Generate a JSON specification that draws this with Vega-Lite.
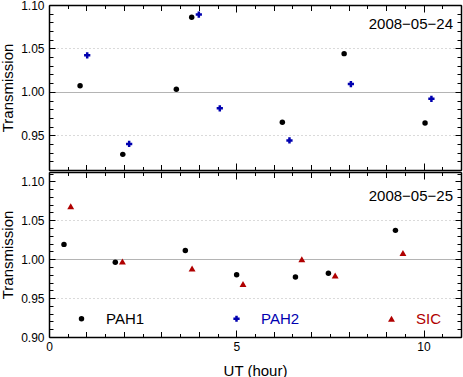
{
  "$schema": "https://vega.github.io/schema/vega-lite/v6.json",
  "padding": {"left": 0, "top": -1, "right": 1, "bottom": 0},
  "spacing": 0,
  "config": {
    "view": {"stroke": null},
    "font": "Liberation Sans",
    "axis": {
      "grid": false, "ticks": true,
      "domainColor": "black", "domainWidth": 1.5, "tickColor": "black", "tickWidth": 1, "tickOpacity": 1,
      "labelFont": "Liberation Sans", "labelFontSize": 12, "labelColor": "black",
      "titleFont": "Liberation Sans", "titleFontSize": 15, "titleFontWeight": "normal", "titleColor": "black",
      "labelOverlap": false, "labelFlush": false, "labelBound": false
    },
    "legend": {"labelFont": "Liberation Sans", "labelFontSize": 15, "padding": 0}
  },
  "data": {"values": [
    {"date": "2008-05-24", "filter": "PAH1", "ut": 0.83, "trans": 1.007},
    {"date": "2008-05-24", "filter": "PAH2", "ut": 1.02, "trans": 1.042},
    {"date": "2008-05-24", "filter": "PAH1", "ut": 1.97, "trans": 0.928},
    {"date": "2008-05-24", "filter": "PAH2", "ut": 2.14, "trans": 0.940},
    {"date": "2008-05-24", "filter": "PAH1", "ut": 3.40, "trans": 1.003},
    {"date": "2008-05-24", "filter": "PAH1", "ut": 3.81, "trans": 1.086},
    {"date": "2008-05-24", "filter": "PAH2", "ut": 4.00, "trans": 1.089},
    {"date": "2008-05-24", "filter": "PAH2", "ut": 4.56, "trans": 0.981},
    {"date": "2008-05-24", "filter": "PAH1", "ut": 6.23, "trans": 0.965},
    {"date": "2008-05-24", "filter": "PAH2", "ut": 6.42, "trans": 0.944},
    {"date": "2008-05-24", "filter": "PAH1", "ut": 7.88, "trans": 1.044},
    {"date": "2008-05-24", "filter": "PAH2", "ut": 8.06, "trans": 1.009},
    {"date": "2008-05-24", "filter": "PAH1", "ut": 10.04, "trans": 0.964},
    {"date": "2008-05-24", "filter": "PAH2", "ut": 10.21, "trans": 0.992},
    {"date": "2008-05-25", "filter": "PAH1", "ut": 0.40, "trans": 1.019},
    {"date": "2008-05-25", "filter": "SIC", "ut": 0.58, "trans": 1.068},
    {"date": "2008-05-25", "filter": "PAH1", "ut": 1.77, "trans": 0.996},
    {"date": "2008-05-25", "filter": "SIC", "ut": 1.96, "trans": 0.997},
    {"date": "2008-05-25", "filter": "PAH1", "ut": 3.64, "trans": 1.011},
    {"date": "2008-05-25", "filter": "SIC", "ut": 3.82, "trans": 0.988},
    {"date": "2008-05-25", "filter": "PAH1", "ut": 5.01, "trans": 0.980},
    {"date": "2008-05-25", "filter": "SIC", "ut": 5.18, "trans": 0.968},
    {"date": "2008-05-25", "filter": "PAH1", "ut": 6.58, "trans": 0.977},
    {"date": "2008-05-25", "filter": "SIC", "ut": 6.75, "trans": 1.000},
    {"date": "2008-05-25", "filter": "PAH1", "ut": 7.46, "trans": 0.982},
    {"date": "2008-05-25", "filter": "SIC", "ut": 7.64, "trans": 0.979},
    {"date": "2008-05-25", "filter": "PAH1", "ut": 9.25, "trans": 1.037},
    {"date": "2008-05-25", "filter": "SIC", "ut": 9.45, "trans": 1.008}
  ]},
  "vconcat": [
    {
      "width": 412, "height": 165,
      "transform": [{"filter": "datum.date == '2008-05-24'"}],
      "layer": [
        {
          "mark": {"type": "point", "filled": true, "opacity": 1},
          "encoding": {
            "x": {"field": "ut", "type": "quantitative", "scale": {"domain": [0, 11], "nice": false, "zero": false},
              "axis": {"orient": "bottom", "title": null, "labels": false, "values": [0, 5, 10], "tickSize": -7}},
            "y": {"field": "trans", "type": "quantitative", "scale": {"domain": [0.91, 1.10], "nice": false, "zero": false},
              "axis": {"orient": "left", "title": "Transmission", "grid": true, "values": [0.95, 1.00, 1.05, 1.10], "format": ".2f",
                "tickSize": -6, "labelPadding": 11, "minExtent": 29, "maxExtent": 29, "titlePadding": 5,
                "gridColor": "#b4b4b4", "gridWidth": 1,
                "gridDash": {"condition": {"test": "abs(datum.value - 1) < 0.001", "value": []}, "value": [1, 3]},
                "gridOpacity": {"condition": {"test": "abs(datum.value - 1.10) < 0.001", "value": 0}, "value": 1}}},
            "color": {"field": "filter", "type": "nominal", "scale": {"domain": ["PAH1", "PAH2", "SIC"], "range": ["#000000", "#0000b0", "#b00000"]}, "title": null},
            "shape": {"field": "filter", "type": "nominal", "scale": {"domain": ["PAH1", "PAH2", "SIC"], "range": ["circle", "cross", "triangle-up"]}, "title": null},
            "size": {"field": "filter", "type": "nominal", "scale": {"domain": ["PAH1", "PAH2", "SIC"], "range": [30, 48, 42]}, "legend": null}
          }
        },
        {
          "mark": {"type": "point", "opacity": 0},
          "encoding": {
            "x": {"field": "ut", "type": "quantitative", "axis": {"orient": "top", "title": null, "labels": false, "values": [0, 5, 10], "tickSize": -7}},
            "y": {"field": "trans", "type": "quantitative", "axis": {"orient": "right", "title": null, "labels": false, "values": [0.95, 1.00, 1.05, 1.10], "tickSize": -6}}
          }
        },
        {
          "mark": {"type": "point", "opacity": 0},
          "encoding": {
            "x": {"field": "ut", "type": "quantitative", "axis": {"orient": "bottom", "title": null, "labels": false, "domain": false, "values": [1,2,3,4,6,7,8,9,11], "tickSize": -5.5}},
            "y": {"field": "trans", "type": "quantitative", "axis": {"orient": "left", "title": null, "labels": false, "domain": false, "values": [0.91,0.92,0.93,0.94,0.96,0.97,0.98,0.99,1.01,1.02,1.03,1.04,1.06,1.07,1.08,1.09], "tickSize": -4}}
          }
        },
        {
          "mark": {"type": "point", "opacity": 0},
          "encoding": {
            "x": {"field": "ut", "type": "quantitative", "axis": {"orient": "top", "title": null, "labels": false, "domain": false, "values": [1,2,3,4,6,7,8,9,11], "tickSize": -5.5}},
            "y": {"field": "trans", "type": "quantitative", "axis": {"orient": "right", "title": null, "labels": false, "domain": false, "values": [0.91,0.92,0.93,0.94,0.96,0.97,0.98,0.99,1.01,1.02,1.03,1.04,1.06,1.07,1.08,1.09], "tickSize": -4}}
          }
        },
        {
          "mark": {"type": "point", "opacity": 0},
          "encoding": {
            "x": {"field": "ut", "type": "quantitative", "axis": {"orient": "bottom", "title": null, "labels": false, "domain": false, "values": [0.5,1.5,2.5,3.5,4.5,5.5,6.5,7.5,8.5,9.5,10.5], "tickSize": -3.5}},
            "y": {"field": "trans", "type": "quantitative", "axis": null}
          }
        },
        {
          "mark": {"type": "point", "opacity": 0},
          "encoding": {
            "x": {"field": "ut", "type": "quantitative", "axis": {"orient": "top", "title": null, "labels": false, "domain": false, "values": [0.5,1.5,2.5,3.5,4.5,5.5,6.5,7.5,8.5,9.5,10.5], "tickSize": -3.5}},
            "y": {"field": "trans", "type": "quantitative", "axis": null}
          }
        },
        {
          "transform": [{"aggregate": [{"op": "count", "as": "n"}], "groupby": ["date"]}, {"calculate": "replace(replace(datum.date, '-', '\u2212'), '-', '\u2212')", "as": "label"}],
          "mark": {"type": "text", "align": "right", "baseline": "middle", "dx": -8, "dy": 19, "fontSize": 15, "font": "Liberation Sans", "color": "black"},
          "encoding": {
            "x": {"datum": 11, "type": "quantitative", "axis": null},
            "y": {"datum": 1.10, "type": "quantitative", "axis": null},
            "text": {"field": "label"}
          }
        }
      ],
      "resolve": {"axis": {"x": "independent", "y": "independent"}}
    },
    {
      "width": 412, "height": 165,
      "transform": [{"filter": "datum.date == '2008-05-25'"}],
      "layer": [
        {
          "mark": {"type": "point", "filled": true, "opacity": 1},
          "encoding": {
            "x": {"field": "ut", "type": "quantitative", "scale": {"domain": [0, 11], "nice": false, "zero": false},
              "axis": {"orient": "bottom", "title": "UT (hour)", "values": [0, 5, 10], "format": "d", "tickSize": -7,
                "labelPadding": 11, "minExtent": 18, "maxExtent": 18, "titlePadding": 8}},
            "y": {"field": "trans", "type": "quantitative", "scale": {"domain": [0.90, 1.112], "nice": false, "zero": false},
              "axis": {"orient": "left", "title": "Transmission", "grid": true, "values": [0.90, 0.95, 1.00, 1.05, 1.10], "format": ".2f",
                "tickSize": -6, "labelPadding": 11, "minExtent": 29, "maxExtent": 29, "titlePadding": 5,
                "gridColor": "#b4b4b4", "gridWidth": 1,
                "gridDash": {"condition": {"test": "abs(datum.value - 1) < 0.001", "value": []}, "value": [1, 3]},
                "gridOpacity": {"condition": {"test": "abs(datum.value - 1.10) < 0.001 || abs(datum.value - 0.90) < 0.001", "value": 0}, "value": 1}}},
            "color": {"field": "filter", "type": "nominal", "title": null,
              "legend": {"orient": "none", "legendX": 25, "legendY": 306, "direction": "horizontal", "columns": 3,
                "symbolSize": 32, "labelOffset": 17, "columnPadding": 84,
                "labelColor": {"expr": "datum.value == 'PAH2' ? '#0000b0' : (datum.value == 'SIC' ? '#b00000' : 'black')"}}},
            "shape": {"field": "filter", "type": "nominal", "title": null},
            "size": {"field": "filter", "type": "nominal", "legend": null}
          }
        },
        {
          "mark": {"type": "point", "opacity": 0},
          "encoding": {
            "x": {"field": "ut", "type": "quantitative", "axis": {"orient": "top", "title": null, "labels": false, "values": [0, 5, 10], "tickSize": -7}},
            "y": {"field": "trans", "type": "quantitative", "axis": {"orient": "right", "title": null, "labels": false, "values": [0.90, 0.95, 1.00, 1.05, 1.10], "tickSize": -6}}
          }
        },
        {
          "mark": {"type": "point", "opacity": 0},
          "encoding": {
            "x": {"field": "ut", "type": "quantitative", "axis": {"orient": "bottom", "title": null, "labels": false, "domain": false, "values": [1,2,3,4,6,7,8,9,11], "tickSize": -5.5}},
            "y": {"field": "trans", "type": "quantitative", "axis": {"orient": "left", "title": null, "labels": false, "domain": false, "values": [0.91,0.92,0.93,0.94,0.96,0.97,0.98,0.99,1.01,1.02,1.03,1.04,1.06,1.07,1.08,1.09,1.11], "tickSize": -4}}
          }
        },
        {
          "mark": {"type": "point", "opacity": 0},
          "encoding": {
            "x": {"field": "ut", "type": "quantitative", "axis": {"orient": "top", "title": null, "labels": false, "domain": false, "values": [1,2,3,4,6,7,8,9,11], "tickSize": -5.5}},
            "y": {"field": "trans", "type": "quantitative", "axis": {"orient": "right", "title": null, "labels": false, "domain": false, "values": [0.91,0.92,0.93,0.94,0.96,0.97,0.98,0.99,1.01,1.02,1.03,1.04,1.06,1.07,1.08,1.09,1.11], "tickSize": -4}}
          }
        },
        {
          "mark": {"type": "point", "opacity": 0},
          "encoding": {
            "x": {"field": "ut", "type": "quantitative", "axis": {"orient": "bottom", "title": null, "labels": false, "domain": false, "values": [0.5,1.5,2.5,3.5,4.5,5.5,6.5,7.5,8.5,9.5,10.5], "tickSize": -3.5}},
            "y": {"field": "trans", "type": "quantitative", "axis": null}
          }
        },
        {
          "mark": {"type": "point", "opacity": 0},
          "encoding": {
            "x": {"field": "ut", "type": "quantitative", "axis": {"orient": "top", "title": null, "labels": false, "domain": false, "values": [0.5,1.5,2.5,3.5,4.5,5.5,6.5,7.5,8.5,9.5,10.5], "tickSize": -3.5}},
            "y": {"field": "trans", "type": "quantitative", "axis": null}
          }
        },
        {
          "transform": [{"aggregate": [{"op": "count", "as": "n"}], "groupby": ["date"]}, {"calculate": "replace(replace(datum.date, '-', '\u2212'), '-', '\u2212')", "as": "label"}],
          "mark": {"type": "text", "align": "right", "baseline": "middle", "dx": -8, "dy": 24, "fontSize": 15, "font": "Liberation Sans", "color": "black"},
          "encoding": {
            "x": {"datum": 11, "type": "quantitative", "axis": null},
            "y": {"datum": 1.112, "type": "quantitative", "axis": null},
            "text": {"field": "label"}
          }
        }
      ],
      "resolve": {"axis": {"x": "independent", "y": "independent"}}
    }
  ],
  "resolve": {"scale": {"y": "independent"}}
}
